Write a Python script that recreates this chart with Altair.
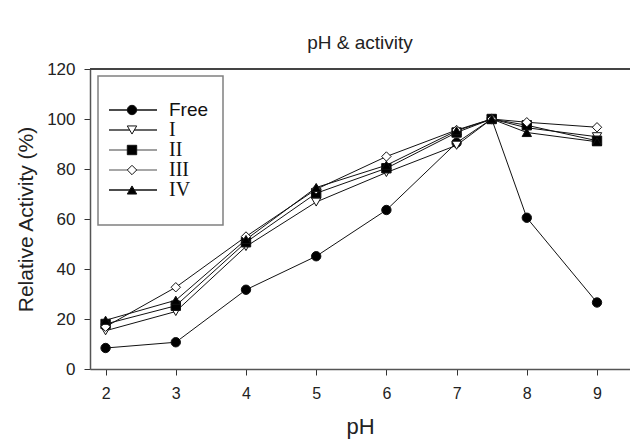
import altair as alt
import pandas as pd

# ---- data ----
ph = [2, 3, 4, 5, 6, 7, 7.5, 8, 9]
series_names = ["Free", "I", "II", "III", "IV"]
free = [8.4, 10.7, 31.7, 45.1, 63.6, 90.5, 100, 60.5, 26.6]
s_i = [15.3, 23.0, 49.0, 66.8, 78.6, 89.5, 100, 96.5, 92.9]
s_ii = [18.0, 25.3, 50.7, 70.3, 80.3, 94.6, 100, 97.5, 91.3]
s_iii = [16.9, 32.7, 53.0, 71.9, 85.0, 95.6, 100, 98.7, 96.7]
s_iv = [19.5, 27.5, 51.8, 72.6, 81.5, 95.3, 100, 94.6, 90.9]
x_ticks = [2, 3, 4, 5, 6, 7, 8, 9]
y_ticks = [0, 20, 40, 60, 80, 100, 120]

# ---- styles ----
shapes = ["circle", "triangle-down", "square", "diamond", "triangle-up"]
fills = ["black", "white", "black", "white", "black"]
legend_line_colors = ["#111111", "#333333", "#808080", "#8a8a8a", "#111111"]

values = {"Free": free, "I": s_i, "II": s_ii, "III": s_iii, "IV": s_iv}
rows = []
for name in series_names:
    for p, v in zip(ph, values[name]):
        rows.append({"series": name, "pH": p, "activity": v})
df = pd.DataFrame(rows)
leg = pd.DataFrame({"series": series_names})
one = pd.DataFrame({"k": [0]})

W, H = 540, 300
FONT = "Liberation Sans"

x_enc = alt.X(
    "pH:Q",
    scale=alt.Scale(domain=[1.778, 9.47], nice=False, zero=False),
    axis=alt.Axis(
        values=x_ticks, format="d", grid=False, title="pH",
        domainColor="#555555", domainWidth=1.5,
        tickColor="#333333", tickSize=6, tickWidth=1,
        labelFont=FONT, labelFontSize=16, labelColor="#222222", labelPadding=10,
        titleFont=FONT, titleFontSize=22, titleFontWeight="normal",
        titleColor="#222222", titlePadding=15,
    ),
)
y_enc = alt.Y(
    "activity:Q",
    scale=alt.Scale(domain=[0, 120], nice=False),
    axis=alt.Axis(
        values=y_ticks, grid=False, title="Relative Activity (%)",
        domainColor="#555555", domainWidth=1.5,
        tickColor="#333333", tickSize=6, tickWidth=1,
        labelFont=FONT, labelFontSize=17, labelColor="#222222", labelPadding=9,
        titleFont=FONT, titleFontSize=21, titleFontWeight="normal",
        titleColor="#222222", titlePadding=10,
    ),
)
shape_enc = alt.Shape("series:N", scale=alt.Scale(domain=series_names, range=shapes), legend=None)
fill_enc = alt.Fill("series:N", scale=alt.Scale(domain=series_names, range=fills), legend=None)

lines = alt.Chart(df).mark_line(color="#111111", strokeWidth=1).encode(
    x=x_enc, y=y_enc, detail="series:N"
)
points = alt.Chart(df).mark_point(
    filled=True, size=88, stroke="#111111", strokeWidth=1, opacity=1
).encode(x=x_enc, y=y_enc, shape=shape_enc, fill=fill_enc)
top_border = alt.Chart(one).mark_rule(color="#444444", strokeWidth=2).encode(
    y=alt.datum(120), x=alt.value(0), x2=alt.value(W)
)
data_group = alt.layer(lines, points, top_border)

legend_y = alt.Y(
    "series:N", sort=series_names,
    scale=alt.Scale(domain=series_names, range=[31, 131], padding=0),
    axis=None,
)
box = alt.Chart(one).mark_rect(fill="white", stroke="#808080", strokeWidth=1.5).encode(
    x=alt.value(8), x2=alt.value(133), y=alt.value(7), y2=alt.value(156)
)
leg_lines = alt.Chart(leg).mark_rule(strokeWidth=1.3).encode(
    x=alt.value(19), x2=alt.value(67), y=legend_y,
    color=alt.Color("series:N", scale=alt.Scale(domain=series_names, range=legend_line_colors), legend=None),
)
leg_pts = alt.Chart(leg).mark_point(
    filled=True, size=88, stroke="#111111", strokeWidth=1, opacity=1
).encode(x=alt.value(42), y=legend_y, shape=shape_enc, fill=fill_enc)
leg_text_sans = alt.Chart(leg).transform_filter(alt.datum.series == "Free").mark_text(
    align="left", baseline="middle", font=FONT, fontSize=19, color="#111111"
).encode(x=alt.value(79), y=legend_y, text="series:N")
leg_text_serif = alt.Chart(leg).transform_filter(alt.datum.series != "Free").mark_text(
    align="left", baseline="middle", font="Liberation Serif", fontSize=20, color="#111111"
).encode(x=alt.value(79), y=legend_y, text="series:N")
legend_group = alt.layer(box, leg_lines, leg_pts, leg_text_sans, leg_text_serif)

chart = (
    alt.layer(data_group, legend_group)
    .resolve_scale(y="independent")
    .properties(
        width=W, height=H,
        title=alt.TitleParams(
            "pH & activity", font=FONT, fontSize=19, fontWeight="normal",
            color="#222222", anchor="middle", offset=7,
        ),
        autosize=alt.AutoSizeParams(type="none"),
        padding={"left": 90, "top": 69, "right": 0, "bottom": 73},
        background="white",
    )
    .configure_view(stroke=None)
)

chart.save("out.html", embed_options={"renderer": "svg", "actions": False})
